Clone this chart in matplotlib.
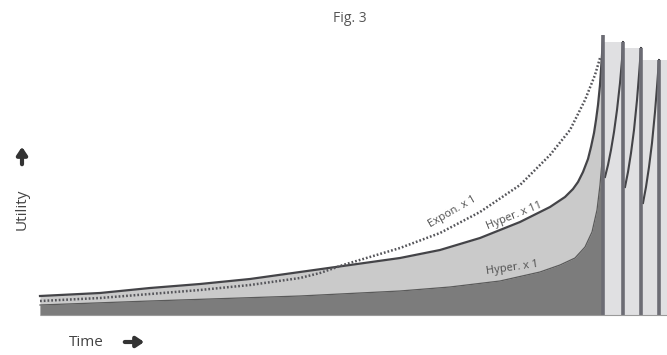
import matplotlib
matplotlib.use("Agg")
import matplotlib.pyplot as plt

plt.rcParams['font.family'] = ['Open Sans', 'DejaVu Sans']

# ---- data (time, utility) ----
hyp1_t = [0, 110, 260, 360, 410, 460, 500, 520, 535, 545, 552, 557, 560, 563]
hyp1_u = [10, 14, 19, 24, 28, 34, 43, 50, 57, 68, 83, 105, 130, 165]

hyp11_t = [0, 60, 110, 160, 210, 260, 310, 360, 400, 440, 480, 510, 525, 533, 538, 543, 548, 551,
           554, 556, 558, 560, 561, 562, 563]
hyp11_u = [19, 22, 27, 31, 36, 43, 50, 57, 65, 77, 93, 108, 118, 126, 133, 143, 156, 168,
           182, 195, 210, 230, 245, 260, 278]

expon_t = [0, 60, 110, 160, 210, 260, 280, 303, 360, 400, 440, 480, 510, 530, 545, 555, 560]
expon_u = [14, 17, 21, 25, 30, 37, 42, 50, 67, 82, 103, 130, 160, 185, 215, 240, 257]

spike_t = [563, 583, 601, 619]
spike_u = [280, 273, 267, 255]

seg1_t = [565, 568, 571, 574, 577, 580, 582, 583]
seg1_u = [138, 150, 165, 183, 205, 232, 255, 273]
seg2_t = [585, 588, 591, 594, 597, 599, 601]
seg2_u = [128, 143, 162, 185, 215, 240, 267]
seg3_t = [603, 606, 609, 612, 615, 617, 619]
seg3_u = [112, 128, 148, 172, 203, 228, 255]
segments = [(seg1_t, seg1_u), (seg2_t, seg2_u), (seg3_t, seg3_u)]

labels = ["Expon. x 1", "Hyper. x 11", "Hyper. x 1"]

fig = plt.figure(figsize=(6.67, 3.55), dpi=100)
ax = fig.add_axes([0, 0, 1, 1])
ax.set_xlim(-40, 627)
ax.set_ylim(-40, 315)
ax.axis('off')

light = '#cacaca'
dark = '#7c7c7c'
col = '#e0e0e2'
linec = '#444448'

# light region under Hyper x 11
ax.fill_between(hyp11_t, 0, hyp11_u, color=light, lw=0, zorder=1)
# dark region under Hyper x 1
ax.fill_between(hyp1_t, 0, hyp1_u, color=dark, lw=0, zorder=2)
ax.plot(hyp1_t, hyp1_u, color='#5a5a5a', lw=0.9, zorder=3)

# columns between spikes
for i, (st, su) in enumerate(segments):
    ax.fill_between([spike_t[i], spike_t[i + 1]], 0, spike_u[i + 1], color=col, lw=0, zorder=1)
    ax.plot(st, su, color=linec, lw=1.5, zorder=4)
ax.fill_between([spike_t[-1], 627], 0, spike_u[-1], color=col, lw=0, zorder=1)

ax.plot(hyp11_t, hyp11_u, color=linec, lw=1.6, zorder=4)
ax.plot(expon_t, expon_u, color='#55555a', lw=1.8, ls=(0, (0.7, 0.8)), zorder=5)

ax.vlines(spike_t, 0, spike_u, color='#6c6c74', lw=2.6, zorder=6)
ax.hlines(0, 0, 627, color='#9a9a9a', lw=0.8, zorder=6)

# curve labels
tc = '#505050'
ax.text(412, 103, labels[0], rotation=30, fontsize=8, color=tc, ha='center', va='center', zorder=7)
ax.text(474, 99, labels[1], rotation=22, fontsize=8, color=tc, ha='center', va='center', zorder=7)
ax.text(472, 47, labels[2], rotation=8, fontsize=8, color=tc, ha='center', va='center', zorder=7)

# titles and axis labels
ax.text(310, 297, "Fig. 3", fontsize=10, color='#555555', ha='center', va='center')
ax.text(-18, 106, "Utility", rotation=90, fontsize=11, color='#444444', ha='center', va='center')
ax.text(46, -28, "Time", fontsize=11, color='#444444', ha='center', va='center')
ax.annotate('', xy=(-18, 171), xytext=(-18, 148), annotation_clip=False,
            arrowprops=dict(arrowstyle='-|>,head_length=0.45,head_width=0.3', lw=3, color='#333333'))
ax.annotate('', xy=(107, -27), xytext=(82, -27), annotation_clip=False,
            arrowprops=dict(arrowstyle='-|>,head_length=0.45,head_width=0.3', lw=3, color='#333333'))

fig.savefig('out.png', dpi=100)
